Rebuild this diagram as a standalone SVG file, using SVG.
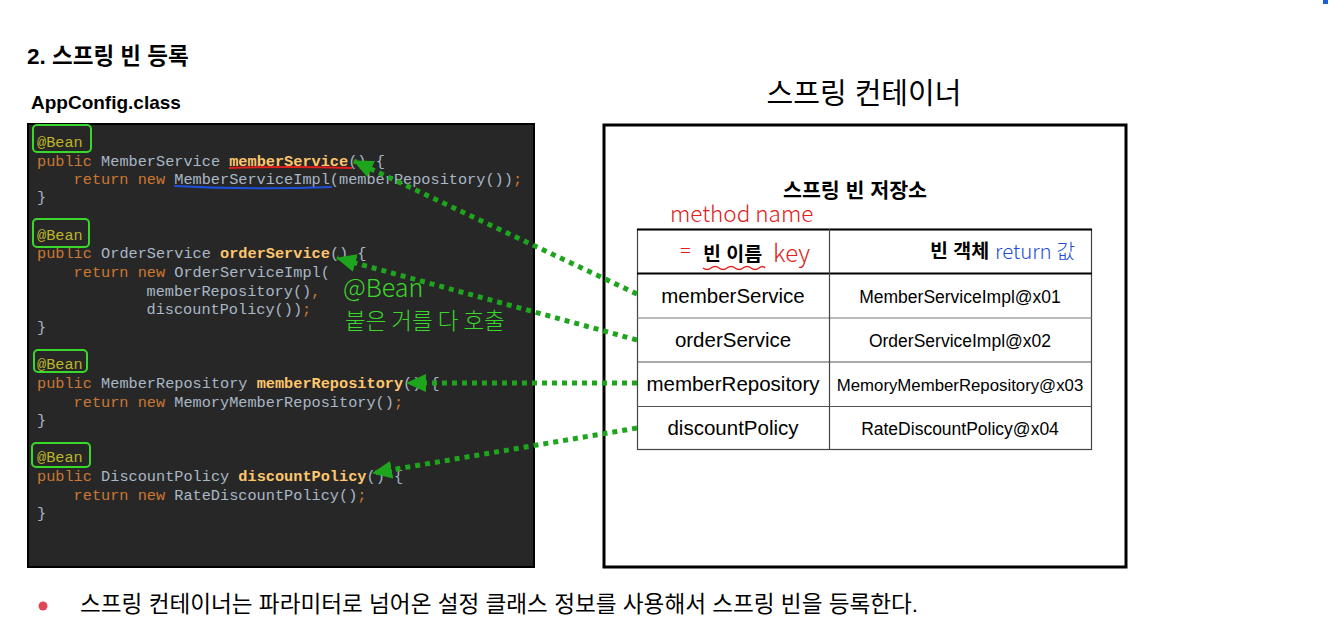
<svg xmlns="http://www.w3.org/2000/svg" width="1330" height="632" viewBox="0 0 1330 632">
<defs>
<style>
.ko{font-family:"Liberation Sans","Noto Sans CJK KR",sans-serif;}
.code{font-family:"Liberation Mono",monospace;font-size:15.25px;fill:#a9b7c6;}
.kw{fill:#cc7832;}
.fn{fill:#ffc66d;font-weight:bold;}
.an{fill:#bbb529;}
.gbox{fill:none;stroke:#3ad82a;stroke-width:2;}
.conn{fill:none;stroke:#1ea51e;stroke-width:5;stroke-dasharray:5 5;}
.cell{font-family:"Liberation Sans",Arial,sans-serif;fill:#000;text-anchor:middle;}
.hand{font-family:"Noto Sans CJK KR",sans-serif;font-weight:300;}
</style>
<marker id="ah" viewBox="0 0 20 18" refX="19" refY="9" markerWidth="20" markerHeight="18" markerUnits="userSpaceOnUse" orient="auto">
<path d="M0,0 L20,9 L0,18 z" fill="#1ea51e"/>
</marker>
</defs>
<rect width="1330" height="632" fill="#fff"/>
<rect x="1323" y="0" width="5" height="4" fill="#1e5be0"/>

<g id="titles">
<text x="27" y="64" class="ko" font-size="22.5" font-weight="bold" fill="#000">2. 스프링 빈 등록</text>
<text x="31" y="109" class="ko" font-size="19" font-weight="bold" fill="#000">AppConfig.class</text>
<text x="864" y="104" class="ko" font-size="29" fill="#000" text-anchor="middle">스프링 컨테이너</text>
</g>

<g id="appconfig">
<rect x="28" y="124" width="506" height="443" fill="#272727" stroke="#000" stroke-width="2"/>
<g class="code">
<text x="37" y="147"><tspan class="an">@Bean</tspan></text>
<text x="37" y="166"><tspan class="kw">public</tspan> MemberService <tspan class="fn">memberService</tspan>() {</text>
<text x="73.6" y="184"><tspan class="kw">return new</tspan> MemberServiceImpl(memberRepository())<tspan class="kw">;</tspan></text>
<text x="37" y="202">}</text>
<text x="37" y="240"><tspan class="an">@Bean</tspan></text>
<text x="37" y="258"><tspan class="kw">public</tspan> OrderService <tspan class="fn">orderService</tspan>() {</text>
<text x="73.6" y="277"><tspan class="kw">return new</tspan> OrderServiceImpl(</text>
<text x="146.5" y="296">memberRepository()<tspan class="kw">,</tspan></text>
<text x="146.5" y="314">discountPolicy())<tspan class="kw">;</tspan></text>
<text x="37" y="332">}</text>
<text x="37" y="369"><tspan class="an">@Bean</tspan></text>
<text x="37" y="388"><tspan class="kw">public</tspan> MemberRepository <tspan class="fn">memberRepository</tspan>() {</text>
<text x="73.6" y="407"><tspan class="kw">return new</tspan> MemoryMemberRepository()<tspan class="kw">;</tspan></text>
<text x="37" y="425">}</text>
<text x="37" y="462"><tspan class="an">@Bean</tspan></text>
<text x="37" y="481"><tspan class="kw">public</tspan> DiscountPolicy <tspan class="fn">discountPolicy</tspan>() {</text>
<text x="73.6" y="500"><tspan class="kw">return new</tspan> RateDiscountPolicy()<tspan class="kw">;</tspan></text>
<text x="37" y="518">}</text>
</g>
<rect class="gbox" x="33" y="125" width="58" height="27" rx="4"/>
<rect class="gbox" x="33" y="219" width="56" height="28" rx="4"/>
<rect class="gbox" x="34" y="350" width="53" height="22" rx="4"/>
<rect class="gbox" x="32" y="443" width="58" height="24" rx="4"/>
<path d="M229,168 Q290,166 352,168" fill="none" stroke="#e0201c" stroke-width="2"/>
<path d="M174,186 Q250,190 332,187" fill="none" stroke="#1e4fd8" stroke-width="2"/>
<text x="343" y="297" class="hand" font-size="25" fill="#3ad82a">@Bean</text>
<text x="345" y="329" class="hand" font-size="22.5" fill="#3ad82a">붙은 거를 다 호출</text>
</g>

<g id="container">
<rect x="604" y="125" width="522" height="442" fill="#fff" stroke="#000" stroke-width="3"/>
<text x="855" y="198" class="ko" font-size="20.6" font-weight="bold" fill="#000" text-anchor="middle">스프링 빈 저장소</text>
<text x="670" y="222" class="hand" font-size="22.5" fill="#e0201c">method name</text>
</g>

<g id="table">
<rect x="637.5" y="229.5" width="454" height="220" fill="#fff" stroke="#444" stroke-width="1.2"/>
<line x1="637" y1="229.5" x2="1092" y2="229.5" stroke="#000" stroke-width="2"/>
<line x1="637" y1="273.5" x2="1092" y2="273.5" stroke="#000" stroke-width="2"/>
<line x1="637" y1="318" x2="1092" y2="318" stroke="#777" stroke-width="1"/>
<line x1="637" y1="362" x2="1092" y2="362" stroke="#555" stroke-width="1"/>
<line x1="637" y1="406.5" x2="1092" y2="406.5" stroke="#555" stroke-width="1"/>
<line x1="829.5" y1="229" x2="829.5" y2="450" stroke="#444" stroke-width="1.2"/>
</g>

<g id="header">
<text x="680" y="258" class="hand" font-size="20" fill="#e0201c">=</text>
<text x="703" y="261" class="ko" font-size="19.5" font-weight="bold" fill="#000">빈 이름</text>
<path d="M703,268 q4,3 8,0 t8,0 t8,0 t8,0 t8,0 t8,0 t8,0 t6,0" fill="none" stroke="#e0201c" stroke-width="1.5"/>
<text x="773" y="262" class="hand" font-size="24" fill="#e0201c">key</text>
<text x="930" y="258" class="ko" font-size="19.5" font-weight="bold" fill="#000">빈 객체</text>
<text x="995" y="259" class="hand" font-size="20.5" fill="#1e4fd8">return 값</text>
</g>

<g id="row-memberService">
<text x="733" y="303" class="cell" font-size="20.5">memberService</text>
<text x="960" y="303" class="cell" font-size="17.5">MemberServiceImpl@x01</text>
</g>
<g id="row-orderService">
<text x="733" y="347" class="cell" font-size="20.5">orderService</text>
<text x="960" y="347" class="cell" font-size="17.5">OrderServiceImpl@x02</text>
</g>
<g id="row-memberRepository">
<text x="733" y="391" class="cell" font-size="20.5">memberRepository</text>
<text x="960" y="391" class="cell" font-size="16.8">MemoryMemberRepository@x03</text>
</g>
<g id="row-discountPolicy">
<text x="733" y="435" class="cell" font-size="20.5">discountPolicy</text>
<text x="960" y="435" class="cell" font-size="17.5">RateDiscountPolicy@x04</text>
</g>

<g id="connectors">
<path class="conn" d="M637,294 L354,161" marker-end="url(#ah)"/>
<path class="conn" d="M637,340 L337,258" marker-end="url(#ah)"/>
<path class="conn" d="M637,383 L407,383" marker-end="url(#ah)"/>
<path class="conn" d="M637,428 L373,473" marker-end="url(#ah)"/>
</g>

<g id="note">
<circle cx="43" cy="606" r="4.5" fill="#e04858"/>
<text x="80" y="612" class="ko" font-size="22.6" fill="#000">스프링 컨테이너는 파라미터로 넘어온 설정 클래스 정보를 사용해서 스프링 빈을 등록한다.</text>
</g>
</svg>
